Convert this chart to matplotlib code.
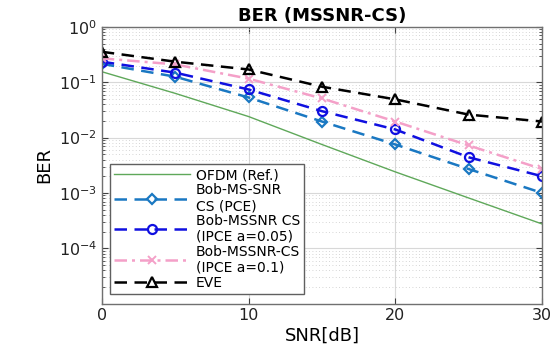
import matplotlib
matplotlib.use("Agg")
import matplotlib.pyplot as plt
from matplotlib.ticker import LogLocator, NullFormatter

plt.rcParams['font.family'] = ['DejaVu Sans']

snr = [0, 5, 10, 15, 20, 25, 30]
ber_ofdm = [0.155, 0.063, 0.024, 0.0075, 0.0024, 8.1e-4, 2.75e-4]
ber_pce = [0.215, 0.126, 0.053, 0.0195, 0.0075, 0.0027, 0.001]
ber_ipce005 = [0.235, 0.149, 0.074, 0.030, 0.014, 0.0044, 0.002]
ber_ipce01 = [0.27, 0.21, 0.116, 0.051, 0.0195, 0.0072, 0.0027]
ber_eve = [0.355, 0.235, 0.17, 0.083, 0.049, 0.026, 0.0195]

labels = ["OFDM (Ref.)", "Bob-MS-SNR\nCS (PCE)", "Bob-MSSNR CS\n(IPCE a=0.05)",
          "Bob-MSSNR-CS\n(IPCE a=0.1)", "EVE"]

fig = plt.figure(figsize=(5.56, 3.49), dpi=100)
ax = fig.add_axes([0.183, 0.130, 0.792, 0.793])

dash = (0, (5, 3))
dashdot = (0, (5, 2, 1.2, 2))
ax.plot(snr, ber_ofdm, '-', color='#5fa85a', lw=1.0, label=labels[0])
ax.plot(snr, ber_pce, ls=dash, color='#1a78c2', lw=1.8, marker='D', ms=5.5,
        mfc='none', mew=1.6, label=labels[1])
ax.plot(snr, ber_ipce005, ls=dash, color='#1010e0', lw=1.8, marker='o', ms=6.5,
        mfc='none', mew=1.6, label=labels[2])
ax.plot(snr, ber_ipce01, ls=dashdot, color='#f4a0c8', lw=1.8, marker='x', ms=6,
        mew=1.4, label=labels[3])
ax.plot(snr, ber_eve, ls=dash, color='black', lw=1.8, marker='^', ms=7,
        mfc='none', mew=1.6, label=labels[4])

ax.set_yscale('log')
ax.set_xlim(0, 30)
ax.set_ylim(1e-5, 1)
ax.set_xticks([0, 10, 20, 30])
ax.set_yticks([1e-4, 1e-3, 1e-2, 1e-1, 1e0])
ax.yaxis.set_minor_locator(LogLocator(base=10, subs=range(2, 10), numticks=20))
ax.yaxis.set_minor_formatter(NullFormatter())

ax.grid(True, which='major', color='#d8d8d8', lw=0.8, ls='-')
ax.grid(True, which='minor', axis='y', color='#c8c8c8', lw=0.6, ls=(0, (1, 3)))
ax.tick_params(which='both', direction='in', top=True, right=True, colors='#404040',
               labelcolor='#222222', labelsize=11.5)
ax.tick_params(which='major', length=4)
ax.tick_params(which='minor', length=2)
for s in ax.spines.values():
    s.set_color('#707070')
    s.set_linewidth(1.0)

ax.set_title("BER (MSSNR-CS)", fontsize=13, fontweight='bold', pad=4)
ax.set_xlabel("SNR[dB]", fontsize=13, labelpad=2)
ax.set_ylabel("BER", fontsize=13, labelpad=4)

leg = ax.legend(loc='lower left', bbox_to_anchor=(0.018, 0.036), fontsize=10,
                handlelength=5.5, labelspacing=0.05, borderpad=0.3,
                handletextpad=0.4, fancybox=False, framealpha=1,
                edgecolor='#606060', borderaxespad=0)
leg.get_frame().set_linewidth(1.0)

fig.savefig("out.png", dpi=100)
